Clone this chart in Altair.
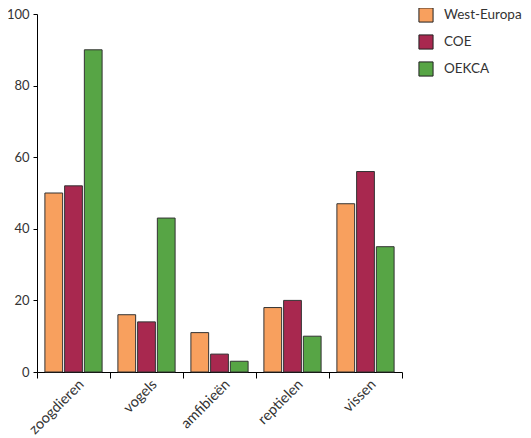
import altair as alt
import pandas as pd

categories = ["zoogdieren", "vogels", "amfibieën", "reptielen", "vissen"]
series = ["West-Europa", "COE", "OEKCA"]
west_europa = [50, 16, 11, 18, 47]
coe = [52, 14, 5, 20, 56]
oekca = [90, 43, 3, 10, 35]
colors = ["#F8A05E", "#A8284F", "#57A545"]

rows = []
for i, c in enumerate(categories):
    for s, vals in zip(series, [west_europa, coe, oekca]):
        rows.append({"cat": c, "series": s, "value": vals[i]})
df = pd.DataFrame(rows)

FONT = "Lato"

chart = alt.Chart(df).mark_bar(stroke="#333333", strokeWidth=1).encode(
    x=alt.X("cat:N", sort=categories, title=None,
            scale=alt.Scale(paddingInner=0, paddingOuter=0),
            axis=alt.Axis(labelAngle=-45, tickBand="extent", tickSize=6,
                          domainColor="#000", tickColor="#000",
                          labelFont=FONT, labelFontSize=14.5, labelColor="#333",
                          labelPadding=-1, labelOffset=3)),
    xOffset=alt.XOffset("series:N", sort=series,
                        scale=alt.Scale(paddingInner=0.1, paddingOuter=0.4)),
    y=alt.Y("value:Q", title=None,
            scale=alt.Scale(domain=[0, 100]),
            axis=alt.Axis(values=[0, 20, 40, 60, 80, 100], grid=False,
                          tickSize=4, domainColor="#000", tickColor="#000",
                          labelFont=FONT, labelFontSize=13, labelColor="#333",
                          labelPadding=4)),
    color=alt.Color("series:N", sort=series,
                    scale=alt.Scale(domain=series, range=colors),
                    legend=alt.Legend(title=None, orient="none", legendX=381, legendY=-7,
                                      symbolType="square", symbolSize=200,
                                      symbolStrokeColor="#222", symbolStrokeWidth=1,
                                      labelFont=FONT, labelFontSize=13.5, labelColor="#333",
                                      rowPadding=7, labelOffset=10)),
).properties(
    width=365, height=358,
    autosize=alt.AutoSizeParams(type="none"),
    padding={"left": 29, "top": 6, "right": 121, "bottom": 64},
).configure_view(stroke=None)

chart.save("out.html", embed_options={"renderer": "svg", "actions": False})
